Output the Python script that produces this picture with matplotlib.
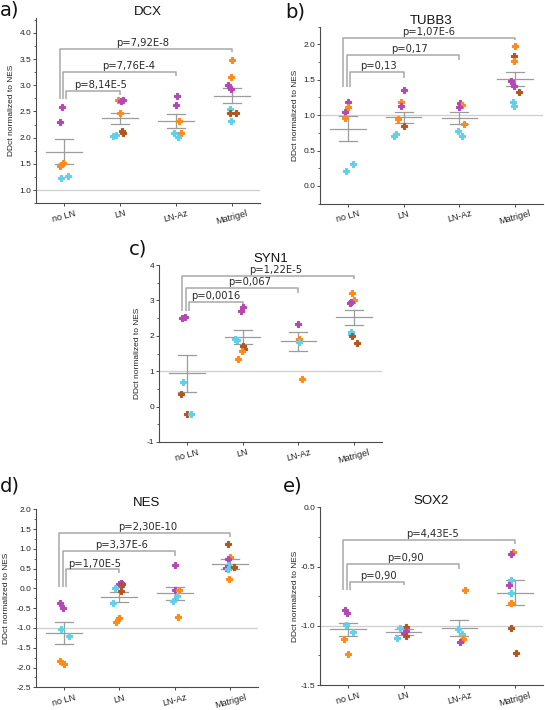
import matplotlib
matplotlib.use("Agg")
import matplotlib.pyplot as plt
from matplotlib.ticker import MultipleLocator

plt.rcParams["axes.unicode_minus"] = False

# ---------------------------------------------------------------
# data
# ---------------------------------------------------------------
groups = ["no LN", "LN", "LN-Az", "Matrigel"]
pal = {"p": "#b348b3", "o": "#ff8a1c", "b": "#b0561f", "c": "#62d0e6"}

# DCX
dcx_vals = [[2.59, 2.30, 1.51, 1.46, 1.23, 1.27],
            [2.71, 2.70, 2.72, 2.48, 2.13, 2.08, 2.03, 2.06],
            [2.80, 2.62, 2.32, 2.09, 2.09, 2.01],
            [3.48, 3.16, 3.00, 2.93, 2.54, 2.48, 2.48, 2.31]]
dcx_cols = [["p", "p", "o", "o", "c", "c"],
            ["o", "p", "p", "o", "b", "b", "c", "c"],
            ["p", "p", "o", "c", "o", "c"],
            ["o", "o", "p", "p", "c", "b", "b", "c"]]
dcx_jit = [[-0.03, -0.08, -0.02, -0.08, -0.06, 0.07],
           [-0.04, 0.01, 0.05, 0.0, 0.04, 0.05, -0.12, -0.07],
           [0.02, 0.0, 0.05, -0.03, 0.09, 0.04],
           [0.0, -0.02, -0.07, -0.02, -0.04, -0.03, 0.07, -0.02]]
dcx_mean = [1.73, 2.37, 2.32, 2.80]
dcx_sem = [0.235, 0.11, 0.13, 0.14]
dcx_p = ["p=8,14E-5", "p=7,76E-4", "p=7,92E-8"]

# TUBB3
tubb_vals = [[1.19, 1.12, 1.04, 0.96, 0.31, 0.21],
             [1.36, 1.18, 1.13, 0.94, 0.84, 0.74, 0.70],
             [1.17, 1.15, 1.12, 0.87, 0.77, 0.71],
             [1.97, 1.84, 1.76, 1.48, 1.41, 1.33, 1.18, 1.13]]
tubb_cols = [["p", "o", "p", "o", "c", "c"],
             ["p", "o", "p", "o", "b", "c", "c"],
             ["p", "o", "p", "o", "c", "c"],
             ["o", "b", "o", "p", "p", "b", "c", "c"]]
tubb_jit = [[0.0, 0.01, -0.05, -0.05, 0.10, -0.03],
            [0.0, -0.04, -0.04, -0.10, 0.0, -0.14, -0.17],
            [0.01, 0.05, 0.0, 0.08, -0.03, 0.04],
            [0.0, -0.02, -0.02, -0.07, -0.02, 0.07, -0.04, -0.02]]
tubb_mean = [0.81, 0.97, 0.96, 1.51]
tubb_sem = [0.175, 0.08, 0.085, 0.105]
tubb_p = ["p=0,13", "p=0,17", "p=1,07E-6"]

# SYN1
syn_vals = [[2.51, 2.53, 0.69, 0.36, -0.21, -0.21],
            [2.80, 2.69, 1.91, 1.89, 1.72, 1.62, 1.57, 1.35],
            [2.34, 1.90, 1.83, 0.77],
            [3.20, 3.01, 2.93, 2.96, 2.10, 2.05, 2.00, 1.80]]
syn_cols = [["p", "p", "c", "b", "b", "c"],
            ["p", "p", "c", "c", "b", "b", "o", "o"],
            ["p", "o", "c", "o"],
            ["o", "o", "p", "p", "c", "c", "b", "b"]]
syn_jit = [[-0.08, -0.04, -0.07, -0.11, 0.0, 0.07],
           [0.0, -0.03, -0.14, -0.10, 0.0, 0.02, -0.02, -0.08],
           [-0.01, 0.02, 0.01, 0.07],
           [-0.04, -0.01, -0.08, -0.05, -0.05, -0.06, -0.04, 0.05]]
syn_mean = [0.94, 1.96, 1.84, 2.52]
syn_sem = [0.52, 0.19, 0.28, 0.205]
syn_p = ["p=0,0016", "p=0,067", "p=1,22E-5"]

# NES
nes_vals = [[-0.36, -0.50, -1.03, -1.20, -1.83, -1.91],
            [0.12, 0.13, 0.05, 0.12, -0.07, 0.0, -0.36, -0.75, -0.85],
            [0.58, -0.03, -0.04, -0.18, -0.31, -0.72],
            [1.12, 0.79, 0.75, 0.59, 0.51, 0.48, 0.53, 0.24]]
nes_cols = [["p", "p", "c", "c", "o", "o"],
            ["p", "p", "p", "b", "b", "c", "c", "o", "o"],
            ["p", "p", "o", "c", "c", "o"],
            ["b", "o", "p", "c", "p", "c", "b", "o"]]
nes_jit = [[-0.07, -0.02, -0.05, 0.09, -0.07, 0.0],
           [0.0, 0.04, 0.04, 0.05, 0.03, -0.08, -0.12, 0.0, -0.05],
           [0.01, 0.0, 0.08, 0.04, -0.03, 0.05],
           [-0.04, 0.0, -0.04, -0.04, -0.08, -0.04, 0.07, -0.03]]
nes_mean = [-1.13, -0.22, -0.12, 0.62]
nes_sem = [0.27, 0.135, 0.165, 0.125]
nes_p = ["p=1,70E-5", "p=3,37E-6", "p=2,30E-10"]

# SOX2
sox_vals = [[-0.87, -0.89, -0.99, -1.05, -1.11, -1.24],
            [-1.01, -1.02, -1.04, -1.06, -1.09, -1.10],
            [-0.70, -1.03, -1.07, -1.11, -1.14],
            [-0.38, -0.39, -0.61, -0.66, -0.72, -0.81, -1.02, -1.23]]
sox_cols = [["p", "p", "c", "c", "o", "o"],
            ["b", "c", "p", "p", "b", "c"],
            ["o", "c", "c", "o", "p"],
            ["o", "p", "c", "p", "c", "o", "b", "b"]]
sox_jit = [[-0.06, -0.01, -0.04, 0.10, -0.07, 0.0],
           [0.05, -0.07, 0.04, 0.0, 0.04, -0.11],
           [0.10, -0.02, 0.04, 0.06, 0.02],
           [-0.04, -0.07, -0.08, -0.11, -0.07, -0.07, -0.07, 0.02]]
sox_mean = [-1.03, -1.05, -1.02, -0.72]
sox_sem = [0.055, 0.025, 0.065, 0.105]
sox_p = ["p=0,90", "p=0,90", "p=4,43E-5"]

# ---------------------------------------------------------------
# layout
# ---------------------------------------------------------------
W, H = 545, 710
fig = plt.figure(figsize=(W / 100, H / 100), dpi=100)


def px_axes(left, top, width, height):
    return fig.add_axes([left / W, 1 - (top + height) / H, width / W, height / H])


LINE = "#9c9c9c"
BR = "#a8a8a8"
SP = "#4a4a4a"


def panel(ax, title, vals, cols, jit, mean, sem, ylim, major, minor, ref,
          ptxt, br_y, br_end, br_base, txt_x, ylab_x):
    ax.set_xlim(0.5, 4.5)
    ax.set_ylim(*ylim)
    ax.axhline(ref, color="#cfcfcf", lw=0.9, zorder=1)
    for i in range(4):
        x0 = i + 1
        m, s = mean[i], sem[i]
        ax.plot([x0 - 0.32, x0 + 0.32], [m, m], color=LINE, lw=0.9, zorder=2)
        ax.plot([x0, x0], [m - s, m + s], color=LINE, lw=0.9, zorder=2)
        for cap in (m - s, m + s):
            ax.plot([x0 - 0.16, x0 + 0.16], [cap, cap], color=LINE, lw=0.9, zorder=2)
        for v, c, j in zip(vals[i], cols[i], jit[i]):
            ax.plot(x0 + j, v, marker="P", ms=4.2, mew=0.8, mec=pal[c],
                    color=pal[c], ls="none", zorder=3)

    # significance brackets
    left_x = [1.04, 0.98, 0.92]
    for k in range(3):
        rx = k + 2
        ax.plot([left_x[k], left_x[k], rx, rx], [br_base, br_y[k], br_y[k], br_end[k]],
                color=BR, lw=1.1, zorder=2, solid_capstyle="butt")
        ax.annotate(ptxt[k], (txt_x[k], br_y[k]), xytext=(0, 2.0),
                    textcoords="offset points", ha="center", va="baseline",
                    fontsize=7.2, family="DejaVu Sans", color="#2a2a2a")

    ax.set_title(title, fontsize=9.5, family="Liberation Sans", pad=1.5, color="#111111")
    ax.set_xticks([1, 2, 3, 4])
    ax.set_xticklabels(groups, rotation=15, ha="center", fontsize=6.5,
                       family="Liberation Sans")
    ax.yaxis.set_major_locator(MultipleLocator(major))
    ax.yaxis.set_minor_locator(MultipleLocator(minor))
    ax.yaxis.set_major_formatter(plt.FuncFormatter(
        lambda v, pos: f"{v:.0f}" if major >= 1 else f"{v:.1f}"))
    for lab in ax.get_yticklabels():
        lab.set_family("Liberation Sans")
    ax.tick_params(axis="y", labelsize=6, length=2.5, width=0.7, pad=1,
                   colors=SP, labelcolor="#222222")
    ax.tick_params(axis="y", which="minor", length=1.5, width=0.6, colors=SP)
    ax.tick_params(axis="x", length=2.5, width=0.7, pad=1.5, colors=SP,
                   labelcolor="#222222")
    for side in ("top", "right"):
        ax.spines[side].set_visible(False)
    for side in ("left", "bottom"):
        ax.spines[side].set_color(SP)
        ax.spines[side].set_linewidth(0.8)
    ax.set_ylabel("DDct normalized to NES", fontsize=6, family="Liberation Sans",
                  color="#222222")
    ax.yaxis.set_label_coords(ylab_x, 0.5)


ax_a = px_axes(36, 18.3, 224, 184.8)
panel(ax_a, "DCX", dcx_vals, dcx_cols, dcx_jit, dcx_mean, dcx_sem,
      (0.75, 4.28), 0.5, 0.25, 1.0, dcx_p,
      [2.90, 3.26, 3.69], [2.81, 3.17, 3.64], 2.73, [1.66, 2.15, 2.40], -0.095)

ax_b = px_axes(320, 26.6, 223, 177.1)
panel(ax_b, "TUBB3", tubb_vals, tubb_cols, tubb_jit, tubb_mean, tubb_sem,
      (-0.25, 2.25), 0.5, 0.25, 1.0, tubb_p,
      [1.61, 1.85, 2.09], [1.53, 1.78, 2.06], 1.40, [1.54, 2.11, 2.44], -0.094)

ax_c = px_axes(159, 265, 223, 177)
panel(ax_c, "SYN1", syn_vals, syn_cols, syn_jit, syn_mean, syn_sem,
      (-1, 4), 1, 0.5, 1.0, syn_p,
      [2.96, 3.36, 3.69], [2.90, 3.22, 3.60], 2.71, [1.51, 2.13, 2.59], -0.082)

ax_d = px_axes(36, 509.3, 222, 178)
panel(ax_d, "NES", nes_vals, nes_cols, nes_jit, nes_mean, nes_sem,
      (-2.5, 2.0), 0.5, 0.25, -1.0, nes_p,
      [0.48, 0.95, 1.41], [0.38, 0.82, 1.31], 0.03, [1.56, 2.04, 2.52], -0.117)

ax_e = px_axes(320, 507.3, 223, 177.7)
panel(ax_e, "SOX2", sox_vals, sox_cols, sox_jit, sox_mean, sox_sem,
      (-1.5, 0.0), 0.5, 0.25, -1.0, sox_p,
      [-0.63, -0.48, -0.276], [-0.66, -0.52, -0.31], -0.70, [1.54, 2.03, 2.51], -0.094)

# panel letters
for lab, x, y in [("a)", 0, 10), ("b)", 285, 12), ("c)", 129, 249),
                  ("d)", 0, 486), ("e)", 283, 486)]:
    fig.text(x / W, 1 - y / H, lab, fontsize=14, family="DejaVu Sans",
             va="center", ha="left", color="#111111")

fig.savefig("out.png", dpi=100)
